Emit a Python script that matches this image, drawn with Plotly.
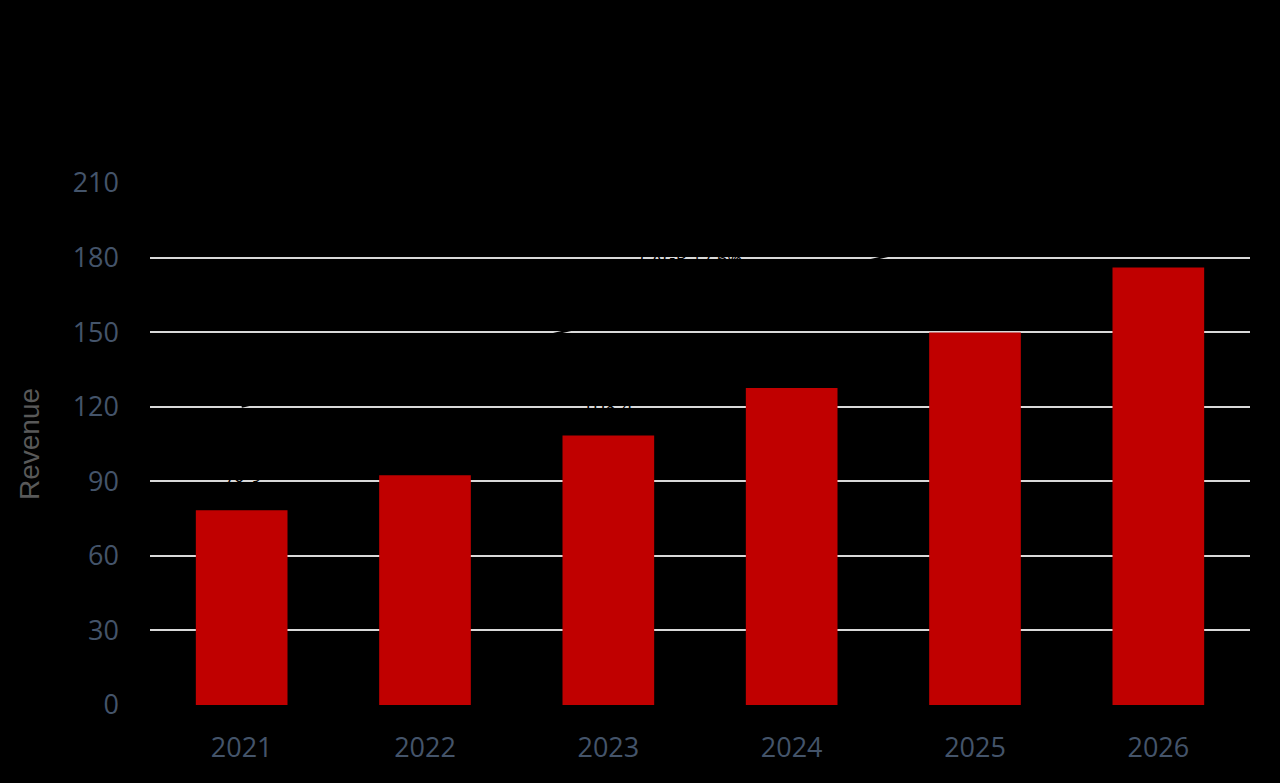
import plotly.graph_objects as go

_BG = "#000000"
_RED = "#C00000"
_GRID = "#D9D9D9"
_TICK = "#44546A"
_TITLE = "#595959"

years = ["2021", "2022", "2023", "2024", "2025", "2026"]
revenue = [78.3, 92.4, 108.4, 127.5, 149.9, 176.0]
value_labels = ["78.3", "92.4", "108.4", "127.5", "149.9", "176.0"]

# trend arrow (drawn in black in the original, so only seen where it cuts the grid)
trend_x = ["2021", "2026"]
trend_y = [120, 206]
cagr_label = "CAGR 17.6%"

y_ticks = [0, 30, 60, 90, 120, 150, 180, 210]

fig = go.Figure()
fig.add_trace(go.Bar(
    x=years,
    y=revenue,
    marker={"color": _RED, "line": {"width": 0}},
    hoverinfo="x+y",
))
fig.add_trace(go.Scatter(
    x=trend_x,
    y=trend_y,
    mode="lines",
    line={"color": "#000000", "width": 2},
    hoverinfo="skip",
))

# category axis: annotations take the category index
for i, (val, lab) in enumerate(zip(revenue, value_labels)):
    fig.add_annotation(
        x=i, y=val, text=lab, showarrow=False,
        yanchor="middle", yshift=29,
        font={"family": "Open Sans", "size": 20, "color": "#000000"},
    )

fig.add_annotation(
    x=(len(years) - 1) / 2 - 0.05, y=180, text=cagr_label, showarrow=False,
    yanchor="middle",
    font={"family": "Open Sans", "size": 18, "color": "#000000"},
)

fig.update_layout(
    paper_bgcolor=_BG,
    plot_bgcolor=_BG,
    width=1280,
    height=783,
    margin={"l": 150, "r": 30, "t": 183, "b": 78},
    showlegend=False,
    bargap=0.5,
    font={"family": "Open Sans", "color": _TICK},
    xaxis={
        "type": "category",
        "range": [-0.5, len(years) - 0.5],
        "showgrid": False,
        "zeroline": False,
        "showline": False,
        "ticks": "",
        "tickfont": {"family": "Open Sans", "size": 27, "color": _TICK},
        "ticklabelstandoff": 24,
    },
    yaxis={
        "range": [0, 210],
        "tickvals": y_ticks,
        "gridcolor": _GRID,
        "gridwidth": 2,
        "zeroline": False,
        "showline": False,
        "ticks": "",
        "tickfont": {"family": "Open Sans", "size": 27, "color": _TICK},
        "ticklabelstandoff": 30,
        "title": {
            "text": "Revenue",
            "font": {"family": "Liberation Sans", "size": 28, "color": _TITLE},
            "standoff": 24,
        },
    },
)

fig.write_html(
    "out.html",
    config={"displayModeBar": False},
    post_script="document.body.style.margin='0';document.body.style.background='#000';",
)
